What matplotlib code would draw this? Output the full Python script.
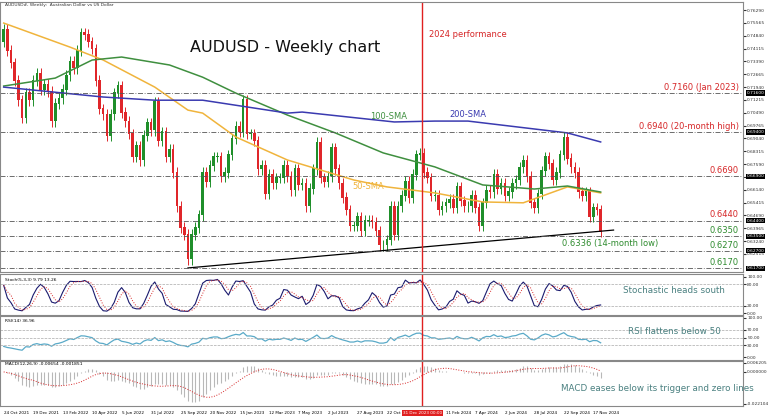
import numpy as np
import matplotlib
matplotlib.use("Agg")
import matplotlib.pyplot as plt

# weekly closes, starting week of 24 Oct 2021
closes = [0.752,0.740,0.733,0.723,0.712,0.702,0.716,0.712,0.723,0.727,
 0.718,0.721,0.717,0.700,0.710,0.713,0.718,0.726,0.734,0.730,0.740,0.750,0.749,0.745,0.741,0.723,0.707,0.704,0.692,0.704,0.716,0.720,0.705,0.700,0.693,0.680,0.686,0.678,0.692,0.699,0.695,0.711,0.689,0.694,0.680,0.684,0.671,0.652,0.640,0.636,0.622,0.636,0.640,0.647,0.671,0.666,0.675,0.680,0.680,0.669,0.671,0.681,
 0.690,0.697,0.694,0.712,0.693,0.693,0.689,0.673,0.675,0.659,0.670,0.665,0.668,0.668,0.675,0.669,0.661,0.673,0.664,0.665,0.652,0.662,0.673,0.688,0.668,0.666,0.669,0.685,0.673,0.665,0.657,0.650,0.641,0.641,0.646,0.638,0.644,0.644,0.643,0.638,0.630,0.630,0.633,0.652,0.636,0.652,0.658,0.666,0.657,0.670,0.681,0.682,
 0.671,0.668,0.658,0.658,0.650,0.652,0.654,0.656,0.651,0.663,0.655,0.652,0.652,0.658,0.651,0.641,0.654,0.661,0.660,0.670,0.662,0.665,0.658,0.660,0.665,0.667,0.674,0.678,0.669,0.654,0.651,0.659,0.672,0.680,0.676,0.667,0.671,0.681,0.691,0.679,0.674,0.671,0.660,0.658,0.660,0.646,0.651,0.650,0.6375]
first_open = 0.745
wick = 0.003

# moving averages: (week index, value)
sma50_pts = [(0,0.7556),(18,0.742),(27,0.7347),(41,0.7194),(50,0.7064),(54,0.7047),(63,0.6912),(77,0.6782),(95,0.6669),(104,0.6630),(117,0.6596),(130,0.6545),(141,0.654),(153,0.663),(162,0.6596)]
sma100_pts = [(0,0.720),(14,0.7245),(24,0.7347),(32,0.7364),(45,0.7319),(54,0.725),(63,0.716),(77,0.7036),(90,0.6935),(103,0.6822),(117,0.6743),(130,0.6641),(144,0.6618),(153,0.6635),(162,0.6601)]
sma200_pts = [(0,0.7194),(27,0.7138),(41,0.712),(54,0.712),(77,0.7047),(81,0.7053),(106,0.6997),(117,0.7002),(126,0.7002),(153,0.6935),(162,0.6884)]
trend_pts = [(50,0.6172),(165.5,0.6386)]

levels_red = [(0.7160,"0.7160 (Jan 2023)"),(0.6940,"0.6940 (20-month high)"),(0.6690,"0.6690"),(0.6440,"0.6440")]
levels_green = [(0.6350,"0.6350"),(0.6270,"0.6270"),(0.6170,"0.6170")]
date_labels = ["24 Oct 2021","19 Dec 2021","13 Feb 2022","10 Apr 2022","5 Jun 2022","31 Jul 2022","25 Sep 2022","20 Nov 2022","15 Jan 2023","12 Mar 2023","7 May 2023","2 Jul 2023","27 Aug 2023","22 Oct 2023","","11 Feb 2024","7 Apr 2024","2 Jun 2024","28 Jul 2024","22 Sep 2024","17 Nov 2024"]
price_ticks = [0.76290,0.75565,0.74840,0.74115,0.73390,0.72665,0.71940,0.71215,0.70490,0.69765,0.69040,0.68315,0.67590,0.66865,0.66140,0.65415,0.64690,0.63965,0.63240,0.62515]

c = np.array(closes); n = len(c); x = np.arange(n)
o = np.r_[first_open, c[:-1]]
hi = np.maximum(o, c) + wick; lo = np.minimum(o, c) - wick

W, H = 768, 418
PW = 743
fig = plt.figure(figsize=(W/100, H/100), dpi=100)
def ax_at(top, bot):
    return fig.add_axes([0, (H-bot)/H, PW/W, (bot-top)/H])
ax = ax_at(2, 272); axs = ax_at(274, 315); axr = ax_at(316, 360); axm = ax_at(361, 406)
XL = (-1, PW/3.685 - 1)
for a in (ax, axs, axr, axm):
    a.set_xlim(*XL)
    a.yaxis.tick_right()
    a.tick_params(axis='y', labelsize=3.2, length=2, pad=1, colors="#333333")
    a.set_xticks([])
    for s in a.spines.values():
        s.set_color("#888888"); s.set_linewidth(0.8)

ann_c = "#4a8080"
# price
up = c >= o
colr = np.where(up, "#1f8f2a", "#e0262a")
ax.vlines(x, lo, hi, colors=colr, lw=0.7)
ax.bar(x, np.abs(c-o)+0.0004, bottom=np.minimum(o,c), width=0.7, color=colr, lw=0)
for pts, col in ((sma50_pts,"#f0b43c"),(sma100_pts,"#3f8f3f"),(sma200_pts,"#3a3ab0")):
    px, py = zip(*pts); ax.plot(px, py, color=col, lw=1.1)
tx, ty = zip(*trend_pts); ax.plot(tx, ty, color="black", lw=0.9)
for v, t in levels_red + levels_green:
    ax.axhline(v, color="#555555", lw=0.6, ls=(0,(6,2,1,2)))
for v, t in levels_red:
    ax.text(199.5, v+0.0006, t, color="#d62728", fontsize=6, ha="right", va="bottom")
for v, t in levels_green:
    ax.text(199.5, v+0.0006, t, color="#2e8b2e", fontsize=6, ha="right", va="bottom")
ax.text(151.5, 0.6295, "0.6336 (14-month low)", color="#2e8b2e", fontsize=6)
ax.text(99.5, 0.7015, "100-SMA", color="#3f8f3f", fontsize=6)
ax.text(94.5, 0.6620, "50-SMA", color="#f0b43c", fontsize=6)
ax.text(121, 0.7025, "200-SMA", color="#3a3ab0", fontsize=6)
ax.text(50.5, 0.7390, "AUDUSD - Weekly chart", fontsize=11.5, color="#111111")
ax.text(115.5, 0.7475, "2024 performance", color="#d62728", fontsize=6)
ax.text(0.3, 0.7655, "AUDUSD#, Weekly:  Australian Dollar vs US Dollar", fontsize=3.2, color="#333333")
ax.set_ylim(0.6149, 0.7675)
ax.set_yticks(price_ticks); ax.set_yticklabels([f"{t:.5f}" for t in price_ticks])
for v in [0.7160,0.6940,0.6690,0.6440,0.6350,0.6270,0.6170]:
    ax.text(1.005, v, f"{v:.5f}", transform=ax.get_yaxis_transform(), fontsize=3.2, color="white",
            va="center", bbox=dict(boxstyle="square,pad=0.15", fc="black", ec="none"))

# stochastic
hh = np.array([hi[max(0,i-4):i+1].max() for i in range(n)])
ll = np.array([lo[max(0,i-4):i+1].min() for i in range(n)])
def sma(a, p): return np.array([a[max(0,i-p+1):i+1].mean() for i in range(len(a))])
num = sma(c-ll, 3); den = sma(hh-ll, 3); k = 100*num/den; d = sma(k, 3)
axs.plot(x, k, color="#1a1a6e", lw=0.8); axs.plot(x, d, color="#d62728", lw=0.7, ls=":")
for v in (80, 20): axs.axhline(v, color="#aaaaaa", lw=0.5, ls="--")
axs.set_ylim(-5, 108); axs.set_yticks([0,20,80,100]); axs.set_yticklabels(["0.00","20.00","80.00","100.00"])
axs.text(0.3, 98, "Stoch(5,3,3) 9.79 13.26", fontsize=3.2, va="top")
axs.text(182, 55, "Stochastic heads south", fontsize=6.3, color=ann_c, ha="center")

# RSI
dlt = np.diff(c, prepend=c[0]); g = np.clip(dlt,0,None); l = np.clip(-dlt,0,None)
ag = np.zeros(n); al = np.zeros(n); ag[0]=g[:14].mean(); al[0]=l[:14].mean()
for i in range(1,n):
    ag[i]=(ag[i-1]*13+g[i])/14; al[i]=(al[i-1]*13+l[i])/14
rsi = 100 - 100/(1+ag/np.maximum(al,1e-9))
axr.plot(x, rsi, color="#5aaac8", lw=0.9)
for v in (70,50,30): axr.axhline(v, color="#aaaaaa", lw=0.5, ls="--")
axr.set_ylim(-7,105); axr.set_yticks([0,30,50,70,100]); axr.set_yticklabels(["0.00","30.00","50.00","70.00","100.00"])
axr.text(0.3, 97, "RSI(14) 36.96", fontsize=3.2, va="top")
axr.text(182, 58, "RSI flattens below 50", fontsize=6.3, color=ann_c, ha="center")

# MACD
def ema(a, p):
    out = np.zeros(len(a)); out[0]=a[0]; al_=2/(p+1)
    for i in range(1,len(a)): out[i]=al_*a[i]+(1-al_)*out[i-1]
    return out
macd = ema(c,12)-ema(c,26); sig = sma(macd, 9)
axm.vlines(x, 0, macd, colors="#b8b8b8", lw=0.8)
axm.plot(x, sig, color="#d62728", lw=0.7, ls=":")
axm.set_ylim(-0.0235, 0.0075); axm.set_yticks([-0.022104,0,0.006205]); axm.set_yticklabels(["-0.022104","0.000000","0.006205"])
axm.text(0.3, 0.0068, "MACD(12,26,9) -0.00654 -0.001851", fontsize=3.2, va="top")
axm.text(177.5, -0.0135, "MACD eases below its trigger and zero lines", fontsize=6.3, color=ann_c, ha="center")

# red 2024 line
for a in (ax, axs, axr, axm):
    a.axvline(113.6, color="#e02020", lw=1.0)
def fx(i): return (i - XL[0])/(XL[1]-XL[0])*PW/W
for i, t in enumerate(date_labels):
    if t:
        fig.text(fx(i*8), 5/H, t, fontsize=3, va="center")
fig.text(fx(113.6), 5/H, "31 Dec 2023 00:00", fontsize=3, va="center", ha="center",
         color="white", bbox=dict(boxstyle="square,pad=0.2", fc="#e02020", ec="none"))
fig.savefig("out.png", dpi=100)
